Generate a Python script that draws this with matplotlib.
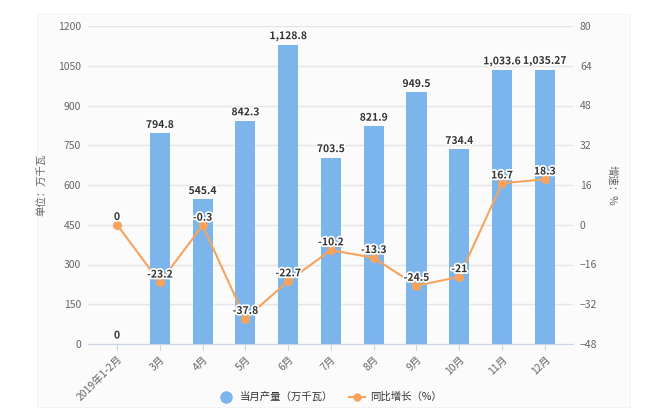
import matplotlib
matplotlib.use('Agg')
import matplotlib.pyplot as plt
import matplotlib.patheffects as pe
import numpy as np

plt.rcParams['font.family'] = ['Noto Sans CJK SC', 'DejaVu Sans']

#data:
months = ['2019年1-2月', '3月', '4月', '5月', '6月', '7月', '8月', '9月',
          '10月', '11月', '12月']
output = [0, 794.8, 545.4, 842.3, 1128.8, 703.5, 821.9, 949.5, 734.4,
          1033.6, 1035.27]
outputLabels = ['0', '794.8', '545.4', '842.3', '1,128.8', '703.5', '821.9',
                '949.5', '734.4', '1,033.6', '1,035.27']
growth = [0, -23.2, -0.3, -37.8, -22.7, -10.2, -13.3, -24.5, -21, 16.7, 18.3]
growthLabels = ['0', '-23.2', '-0.3', '-37.8', '-22.7', '-10.2', '-13.3',
                '-24.5', '-21', '16.7', '18.3']

barColor = '#7cb5ec'
lineColor = '#f7a35c'
textColor = '#666666'

fig = plt.figure(figsize=(6.5, 4.2), dpi=100)
#faint panel background
fig.patches.append(plt.Rectangle((37/650, 1-407/420), 593/650, 393/420,
                                 transform=fig.transFigure,
                                 facecolor='#fbfbfb', edgecolor='#f2f2f2',
                                 linewidth=0.6, zorder=-5))
ax = fig.add_axes([88/650, 1-344/420, 485/650, 318/420])
ax.set_facecolor('none')
_x = np.arange(len(months))

ax.bar(_x, output, width=0.47, color=barColor, zorder=2)
ax.set_ylim(0, 1200)
ax.set_yticks(np.arange(0, 1201, 150))
ax.set_xlim(-0.68, 10.66)
ax.grid(axis='y', color='#e6e6e6', linewidth=1, zorder=0)
for side in ['top', 'right', 'left']:
    ax.spines[side].set_visible(False)
ax.spines['bottom'].set_color('#ccd6eb')
ax.set_xticks(_x)
ax.set_xticklabels(months, rotation=45, ha='right', rotation_mode='anchor',
                   fontsize=7.5, color=textColor)
ax.tick_params(axis='x', length=4, color='#ccd6eb', pad=3)
ax.tick_params(axis='y', length=0, pad=5, labelsize=7.5, labelcolor=textColor)
ax.set_ylabel('单位：万千瓦', fontsize=7.5, color=textColor, labelpad=8)

for x, y, t in zip(_x, output, outputLabels):
    ax.annotate(t, (x, y), xytext=(0, 2.5), textcoords='offset points',
                ha='center', va='bottom', fontsize=7.5, fontweight='bold',
                color='#333333', zorder=5,
                path_effects=[pe.withStroke(linewidth=2, foreground='white')])

ax2 = ax.twinx()
ax2.plot(_x, growth, color=lineColor, linewidth=1.5, marker='o',
         markersize=5.5, zorder=3)
ax2.set_ylim(-48, 80)
ax2.set_yticks(np.arange(-48, 81, 16))
for side in ['top', 'right', 'left', 'bottom']:
    ax2.spines[side].set_visible(False)
ax2.tick_params(axis='y', length=0, pad=5, labelsize=7.5, labelcolor=textColor)
ax2.set_ylabel('增速：%', fontsize=7.5, color=textColor, rotation=270,
               labelpad=14)

for x, y, t in zip(_x, growth, growthLabels):
    ax2.annotate(t, (x, y), xytext=(0, 2), textcoords='offset points',
                 ha='center', va='bottom', fontsize=7.5, fontweight='bold',
                 color='#333333', zorder=6,
                 path_effects=[pe.withStroke(linewidth=2.5, foreground='white')])

#legend
handles = [plt.Line2D([], [], linestyle='none', marker='o', markersize=8,
                      color=barColor),
           plt.Line2D([], [], color=lineColor, linewidth=1.5, marker='o',
                      markersize=5)]
fig.legend(handles, ['当月产量（万千瓦）', '同比增长（%）'], loc='center',
           bbox_to_anchor=(330/650, 1-397/420), ncol=2, frameon=False,
           fontsize=7.5, handlelength=1.6, columnspacing=1.5,
           handletextpad=0.5, labelcolor='#333333')

fig.savefig('out.png', dpi=100)
